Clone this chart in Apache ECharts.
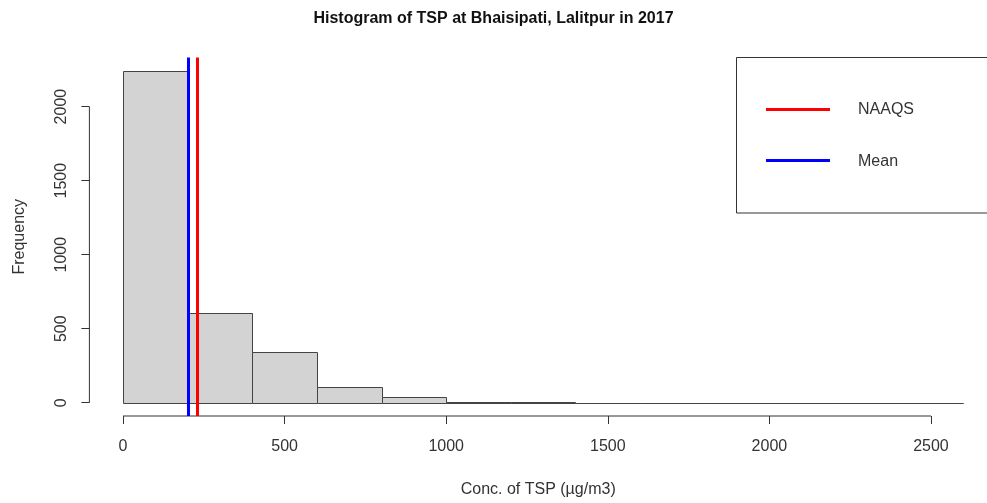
<!DOCTYPE html>
<html>
<head>
<meta charset="utf-8">
<script src="https://cdn.jsdelivr.net/npm/echarts@6/dist/echarts.min.js"></script>
<style>
html,body{margin:0;padding:0;background:#fff;}
#chart{width:987px;height:503px;}
</style>
</head>
<body>
<div id="chart"></div>
<script>
// ---- data ----
const binStarts = [0, 200, 400, 600, 800, 1000, 1200, 1400, 1600, 1800, 2000, 2200, 2400];
const binEnds   = [200, 400, 600, 800, 1000, 1200, 1400, 1600, 1800, 2000, 2200, 2400, 2600];
const counts    = [2242, 606, 340, 106, 38, 6, 3, 0, 0, 0, 0, 0, 1];
const xTicks = [0, 500, 1000, 1500, 2000, 2500];
const yTicks = [0, 500, 1000, 1500, 2000];
const meanValue = 203;
const naaqsValue = 230;
const titleText = 'Histogram of TSP at Bhaisipati, Lalitpur in 2017';
const xName = 'Conc. of TSP (µg/m3)';
const yName = 'Frequency';
const legendNames = ['NAAQS', 'Mean'];

// R-like 4% axis extension
const xLo = binStarts[0], xHi = binEnds[binEnds.length - 1];
const yHi = Math.max(...counts);
const xMin = xLo - 0.04 * (xHi - xLo), xMaxFull = xHi + 0.04 * (xHi - xLo);
const yMin = -0.04 * yHi, yMax = yHi * 1.04;

// plot region: the original image is cropped at its right edge
const GRID_LEFT = 89.4, FULL_WIDTH = 907.5, CANVAS_W = 987;
const visibleWidth = CANVAS_W - GRID_LEFT;
const xMax = xMin + (xMaxFull - xMin) * visibleWidth / FULL_WIDTH;

const FONT = 'Liberation Sans';
const INK = '#333';

const histData = binStarts.map((s, i) => [s, binEnds[i], counts[i]]);

const chart = echarts.init(document.getElementById('chart'), null, {renderer: 'canvas'});
chart.setOption({
  animation: false,
  backgroundColor: '#fff',
  title: {
    text: titleText, left: 'center', top: 6,
    textStyle: {fontFamily: FONT, fontSize: 16, fontWeight: 'bold', color: '#111'}
  },
  grid: {left: GRID_LEFT, top: 57.5, width: visibleWidth, height: 358.8, containLabel: false},
  xAxis: {
    type: 'value', min: xMin, max: xMax,
    axisLine: {show: false, onZero: false},
    splitLine: {show: false},
    axisTick: {show: true, length: 8, customValues: xTicks, lineStyle: {color: INK}},
    axisLabel: {customValues: xTicks, margin: 23, fontFamily: FONT, fontSize: 16, color: INK,
                formatter: v => String(v)},
    name: xName, nameLocation: 'middle', nameGap: 66,
    nameTextStyle: {fontFamily: FONT, fontSize: 16, color: INK}
  },
  yAxis: {
    type: 'value', min: yMin, max: yMax,
    axisLine: {show: false, onZero: false},
    splitLine: {show: false},
    axisTick: {show: true, length: 8, customValues: yTicks, lineStyle: {color: INK}},
    axisLabel: {customValues: yTicks, rotate: 90, margin: 20, fontFamily: FONT, fontSize: 16, color: INK,
                formatter: v => String(v)},
    name: yName, nameLocation: 'middle', nameGap: 62,
    nameTextStyle: {fontFamily: FONT, fontSize: 16, color: INK}
  },
  series: [
    {
      type: 'custom',
      data: histData,
      clip: false,
      renderItem: function (params, api) {
        const p0 = api.coord([api.value(0), 0]);
        const p1 = api.coord([api.value(1), api.value(2)]);
        return {
          type: 'rect',
          shape: {x: Math.round(p0[0]) + 0.5, y: Math.round(p1[1]) + 0.5,
                  width: Math.round(p1[0]) - Math.round(p0[0]),
                  height: Math.round(p0[1]) - Math.round(p1[1])},
          style: {fill: '#D3D3D3', stroke: '#444', lineWidth: 1}
        };
      },
      markLine: {
        silent: true, symbol: 'none', label: {show: false},
        data: [
          {xAxis: meanValue, lineStyle: {color: '#0000FF', width: 3, type: 'solid'}},
          {xAxis: naaqsValue, lineStyle: {color: '#FF0000', width: 3, type: 'solid'}}
        ]
      }
    },
    {
      type: 'line', clip: false, symbol: 'none', silent: true,
      data: [[xTicks[0], yMin], [xTicks[xTicks.length - 1], yMin]],
      lineStyle: {color: INK, width: 1}
    },
    {
      type: 'line', clip: false, symbol: 'none', silent: true,
      data: [[xMin, yTicks[0]], [xMin, yTicks[yTicks.length - 1]]],
      lineStyle: {color: INK, width: 1}
    }
  ],
  graphic: [
    {type: 'rect', shape: {x: 736.5, y: 57.5, width: 300, height: 155.5},
     style: {fill: '#fff', stroke: INK, lineWidth: 1}, z: 10},
    {type: 'line', shape: {x1: 766, y1: 109.5, x2: 830, y2: 109.5},
     style: {stroke: '#FF0000', lineWidth: 3}, z: 11},
    {type: 'line', shape: {x1: 766, y1: 160.5, x2: 830, y2: 160.5},
     style: {stroke: '#0000FF', lineWidth: 3}, z: 11},
    {type: 'text', x: 858, y: 110, z: 11,
     style: {text: legendNames[0], fontFamily: FONT, fontSize: 16, fill: INK, verticalAlign: 'middle'}},
    {type: 'text', x: 858, y: 162, z: 11,
     style: {text: legendNames[1], fontFamily: FONT, fontSize: 16, fill: INK, verticalAlign: 'middle'}}
  ]
});
</script>
</body>
</html>
